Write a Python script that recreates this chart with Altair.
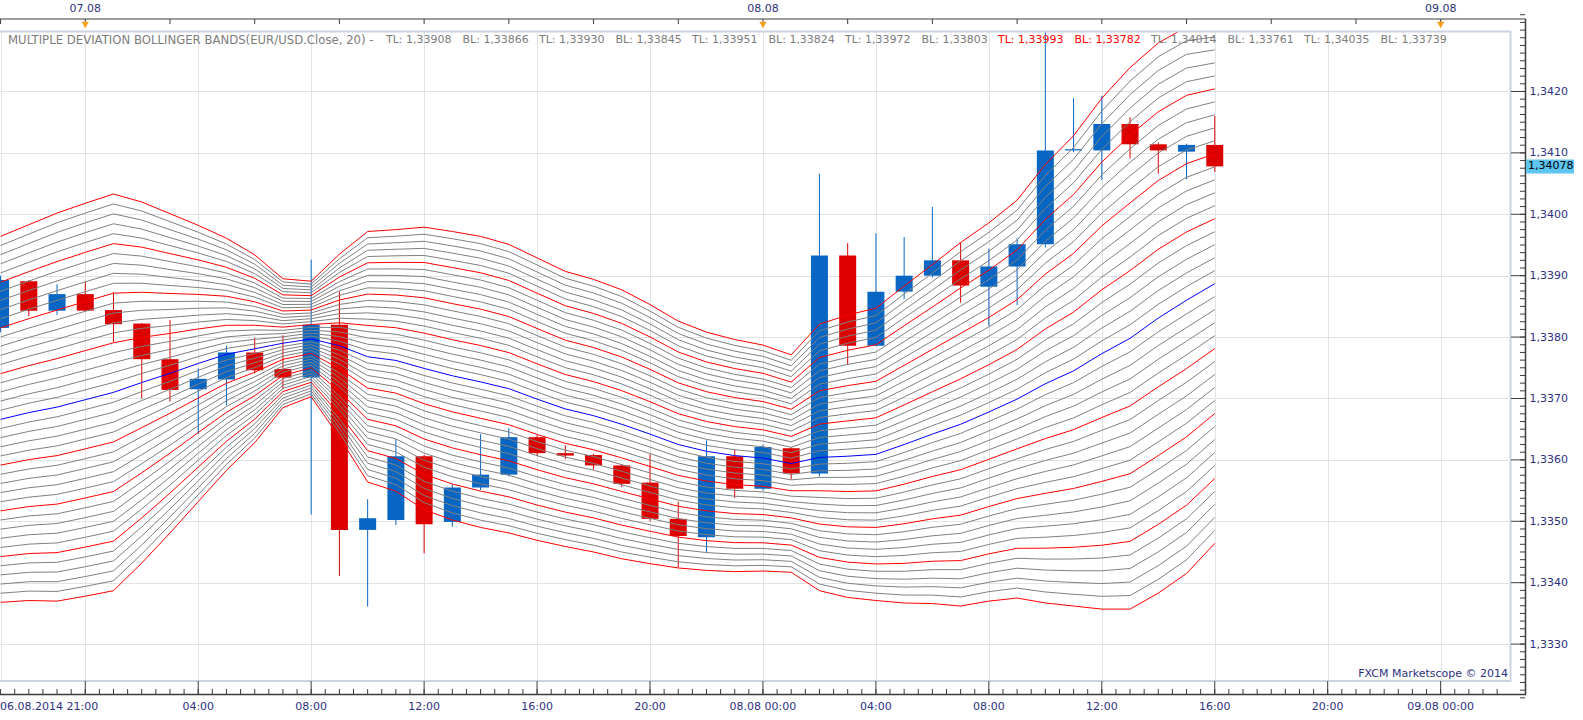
import altair as alt
import numpy as np
import pandas as pd

# Hourly EUR/USD bars; hour index 0 = 06.08.2014 21:00
hours = list(range(44))
opens = [1.33815, 1.33891, 1.33843, 1.33870, 1.33844, 1.33822, 1.33764, 1.33715, 1.33731, 1.33775,
         1.33748, 1.33734, 1.33820, 1.33486, 1.33502, 1.33606, 1.33499, 1.33555, 1.33576, 1.33637,
         1.33611, 1.33608, 1.33591, 1.33563, 1.33504, 1.33474, 1.33606, 1.33553, 1.33619, 1.33578,
         1.33933, 1.33786, 1.33874, 1.33900, 1.33925, 1.33882, 1.33915, 1.33951, 1.34104, 1.34104,
         1.34147, 1.34114, 1.34102, 1.34113]
highs = [1.33900, 1.33893, 1.33886, 1.33890, 1.33873, 1.33823, 1.33828, 1.33749, 1.33786, 1.33799,
         1.33803, 1.33926, 1.33874, 1.33536, 1.33634, 1.33608, 1.33560, 1.33642, 1.33652, 1.33640,
         1.33624, 1.33610, 1.33593, 1.33609, 1.33532, 1.33632, 1.33617, 1.33625, 1.33621, 1.34066,
         1.33953, 1.33969, 1.33963, 1.34012, 1.33954, 1.33944, 1.33961, 1.34310, 1.34189, 1.34193,
         1.34158, 1.34117, 1.34115, 1.34160]
lows = [1.33808, 1.33834, 1.33836, 1.33842, 1.33792, 1.33700, 1.33695, 1.33642, 1.33689, 1.33741,
        1.33715, 1.33511, 1.33411, 1.33361, 1.33494, 1.33448, 1.33491, 1.33551, 1.33573, 1.33606,
        1.33601, 1.33584, 1.33556, 1.33500, 1.33425, 1.33449, 1.33538, 1.33550, 1.33568, 1.33573,
        1.33755, 1.33785, 1.33862, 1.33897, 1.33856, 1.33818, 1.33852, 1.33946, 1.34101, 1.34056,
        1.34091, 1.34066, 1.34057, 1.34069]
closes = [1.33893, 1.33843, 1.33870, 1.33843, 1.33821, 1.33764, 1.33714, 1.33732, 1.33775, 1.33746,
          1.33734, 1.33820, 1.33486, 1.33505, 1.33606, 1.33495, 1.33555, 1.33576, 1.33637, 1.33611,
          1.33607, 1.33591, 1.33561, 1.33504, 1.33476, 1.33606, 1.33553, 1.33621, 1.33578, 1.33933,
          1.33786, 1.33874, 1.33900, 1.33925, 1.33884, 1.33915, 1.33951, 1.34104, 1.34106, 1.34147,
          1.34114, 1.34104, 1.34113, 1.34078]

# Bollinger middle line and half-width of the outermost (20th) band
band_mid = [1.33666, 1.33677, 1.33686, 1.33698, 1.33710, 1.33726, 1.33741, 1.33757, 1.33772, 1.33781,
            1.33790, 1.33797, 1.33786, 1.33768, 1.33762, 1.33749, 1.33737, 1.33727, 1.33716, 1.33699,
            1.33683, 1.33672, 1.33658, 1.33642, 1.33625, 1.33614, 1.33607, 1.33603, 1.33594, 1.33604,
            1.33606, 1.33609, 1.33625, 1.33642, 1.33658, 1.33678, 1.33699, 1.33724, 1.33745, 1.33773,
            1.33798, 1.33831, 1.33860, 1.33887]
band_half = [0.00298, 0.00306, 0.00316, 0.00320, 0.00323, 0.00294, 0.00260, 0.00225, 0.00189, 0.00153,
             0.00105, 0.00094, 0.00149, 0.00204, 0.00213, 0.00230, 0.00235, 0.00237, 0.00235, 0.00230,
             0.00224, 0.00222, 0.00219, 0.00211, 0.00201, 0.00194, 0.00189, 0.00184, 0.00177, 0.00217,
             0.00230, 0.00238, 0.00258, 0.00276, 0.00296, 0.00308, 0.00324, 0.00357, 0.00383, 0.00416,
             0.00441, 0.00448, 0.00445, 0.00423]
BAND_STEPS = 20

# Axis labelling
price_ticks = [1.333, 1.334, 1.335, 1.336, 1.337, 1.338, 1.339, 1.340, 1.341, 1.342]
grid_hours = [0, 3, 7, 11, 15, 19, 23, 27, 31, 35, 39, 43, 47, 51]
bottom_label_hours = [7, 11, 15, 19, 23, 27, 31, 35, 39, 43, 47, 51]
bottom_labels = ["04:00", "08:00", "12:00", "16:00", "20:00", "08.08 00:00",
                 "04:00", "08:00", "12:00", "16:00", "20:00", "09.08 00:00"]
first_label = "06.08.2014 21:00"
day_hours = [3, 27, 51]
day_labels = ["07.08", "08.08", "09.08"]

legend_title = "MULTIPLE DEVIATION BOLLINGER BANDS(EUR/USD.Close, 20) -"
legend_items = ["TL: 1,33908", "BL: 1,33866", "TL: 1,33930", "BL: 1,33845", "TL: 1,33951",
                "BL: 1,33824", "TL: 1,33972", "BL: 1,33803", "TL: 1,33993", "BL: 1,33782",
                "TL: 1,34014", "BL: 1,33761", "TL: 1,34035", "BL: 1,33739"]
legend_highlight = [8, 9]

FONT = "DejaVu Sans"
NAVY = "#2e3180"
UP, DOWN = "#0766c4", "#dd0000"
W, H = 1510, 650

xs = alt.Scale(domain=[-0.02, 53.456], nice=False, zero=False, padding=0)
ys = alt.Scale(domain=[1.332399, 1.342985], nice=False, zero=False, padding=0)
yaxis = alt.Axis(orient="right", offset=15, values=price_ticks, title=None,
                 labelExpr="replace(format(datum.value, '.4f'), '.', ',')",
                 domain=False, ticks=False, tickSize=0, labelPadding=4,
                 labelFont=FONT, labelFontSize=11, labelColor=NAVY,
                 grid=True, gridColor="#e3e3e3", gridWidth=1)
xaxis = alt.Axis(values=grid_hours, labels=False, domain=False, ticks=False, title=None,
                 grid=True, gridColor="#e3e3e3", gridWidth=1)

bars = pd.DataFrame({"h": hours, "open": opens, "high": highs, "low": lows, "close": closes})
bars["dir"] = np.where(bars["close"] >= bars["open"], "up", "down")
cscale = alt.Scale(domain=["up", "down"], range=[UP, DOWN])

base = alt.Chart(bars)
grid = base.mark_point(opacity=0).encode(
    x=alt.X("h:Q", scale=xs, axis=xaxis), y=alt.Y("close:Q", scale=ys, axis=yaxis))
wicks = base.mark_rule(strokeWidth=1, clip=True).encode(
    x=alt.X("h:Q", scale=xs), y=alt.Y("low:Q", scale=ys), y2="high:Q",
    color=alt.Color("dir:N", scale=cscale, legend=None))
bodies = base.mark_bar(size=17, clip=True).encode(
    x=alt.X("h:Q", scale=xs), y=alt.Y("open:Q", scale=ys), y2="close:Q",
    color=alt.Color("dir:N", scale=cscale, legend=None))

# Band lines: middle +/- k/20 of the outer half-width
rows = []
for h, m, w in zip(hours, band_mid, band_half):
    for k in range(-BAND_STEPS, BAND_STEPS + 1):
        kind = "mid" if k == 0 else ("red" if k % 5 == 0 else "gray")
        rows.append({"h": h, "k": k, "v": m + w * k / BAND_STEPS, "kind": kind})
bands = pd.DataFrame(rows)

def band_layer(kind, color):
    return alt.Chart(bands[bands["kind"] == kind]).mark_line(
        strokeWidth=1, color=color, clip=True).encode(
        x=alt.X("h:Q", scale=xs), y=alt.Y("v:Q", scale=ys), detail="k:N")

gray_lines = band_layer("gray", "#808080")
red_lines = band_layer("red", "#ff0000")
mid_line = band_layer("mid", "#0000ff")

one = pd.DataFrame({"a": [0]})
def hrule(x1, x2, y, color, width):
    return alt.Chart(one).mark_rule(color=color, strokeWidth=width).encode(
        x=alt.value(x1), x2=alt.value(x2), y=alt.value(y))
def vrule(x, y1, y2, color, width):
    return alt.Chart(one).mark_rule(color=color, strokeWidth=width).encode(
        x=alt.value(x), y=alt.value(y1), y2=alt.value(y2))

PANEL = "#cbd2e2"
AXIS = "#3c3c3c"
frame = [
    hrule(0, 1511, 0.5, PANEL, 2), hrule(0, 1511, 650, PANEL, 2), vrule(1510.5, 0, 651, PANEL, 2),
    hrule(0, 1526, -12, AXIS, 1), hrule(0, 1526, 663.5, AXIS, 1.5), vrule(1525.5, -12, 664, AXIS, 1.5),
]

# Price-axis tick marks (major inside the frame, minor every 1/8)
major_df = pd.DataFrame({"p": price_ticks})
minor_df = pd.DataFrame({"p": np.round(np.arange(1.332125, 1.34325, 0.000125), 6)})
ymajor = alt.Chart(major_df).mark_rule(color=AXIS, strokeWidth=1).encode(
    y=alt.Y("p:Q", scale=ys), x=alt.value(1511), x2=alt.value(1525))
yminor = alt.Chart(minor_df).mark_rule(color=AXIS, strokeWidth=1).encode(
    y=alt.Y("p:Q", scale=ys), x=alt.value(1520), x2=alt.value(1525))

# Time-axis tick marks
xmajor_df = pd.DataFrame({"h": grid_hours[1:]})
xminor_df = pd.DataFrame({"h": np.arange(0, 53.5, 0.5)})
xmajor = alt.Chart(xmajor_df).mark_rule(color=AXIS, strokeWidth=1).encode(
    x=alt.X("h:Q", scale=xs), y=alt.value(650), y2=alt.value(663))
xminor = alt.Chart(xminor_df).mark_rule(color=AXIS, strokeWidth=1).encode(
    x=alt.X("h:Q", scale=xs), y=alt.value(658), y2=alt.value(663))
top_df = pd.DataFrame({"h": np.arange(0, 54, 3)})
xtop = alt.Chart(top_df).mark_rule(color=AXIS, strokeWidth=1).encode(
    x=alt.X("h:Q", scale=xs), y=alt.value(-12), y2=alt.value(-7))

# Labels
bl_df = pd.DataFrame({"h": bottom_label_hours, "t": bottom_labels})
bottom_text = alt.Chart(bl_df).mark_text(font=FONT, fontSize=11, color=NAVY, baseline="middle").encode(
    x=alt.X("h:Q", scale=xs), y=alt.value(676), text="t:N")
first_text = alt.Chart(pd.DataFrame({"t": [first_label]})).mark_text(
    font=FONT, fontSize=11, color=NAVY, align="left", baseline="middle").encode(
    x=alt.value(0), y=alt.value(676), text="t:N")
day_df = pd.DataFrame({"h": day_hours, "t": day_labels})
day_text = alt.Chart(day_df).mark_text(font=FONT, fontSize=11, color=NAVY, baseline="middle").encode(
    x=alt.X("h:Q", scale=xs), y=alt.value(-22), text="t:N")
day_marks = alt.Chart(day_df).mark_point(shape="triangle-down", filled=True, size=55,
                                         color="#f5a01a", opacity=1).encode(
    x=alt.X("h:Q", scale=xs), y=alt.value(-6))

# Indicator caption: title, then one entry per band value
leg_df = pd.DataFrame({
    "t": legend_items,
    "x": [386 + 76.5 * i for i in range(len(legend_items))],
    "hl": [i in legend_highlight for i in range(len(legend_items))],
})
legend_title_text = alt.Chart(one).mark_text(
    font=FONT, fontSize=11.7, align="left", baseline="middle", color="#7d7d7d",
    text=legend_title).encode(x=alt.value(8), y=alt.value(9))
legend_gray = alt.Chart(leg_df[~leg_df["hl"]]).mark_text(
    font=FONT, fontSize=11, align="left", baseline="middle", color="#7d7d7d").encode(
    x=alt.X("x:Q", scale=None), y=alt.value(9), text="t:N")
legend_red = alt.Chart(leg_df[leg_df["hl"]]).mark_text(
    font=FONT, fontSize=11, align="left", baseline="middle", color="#ff0000").encode(
    x=alt.X("x:Q", scale=None), y=alt.value(9), text="t:N")

credit = alt.Chart(one).mark_text(font=FONT, fontSize=11, color=NAVY, align="right", baseline="middle",
                                  text="FXCM Marketscope \u00a9 2014").encode(x=alt.value(1508), y=alt.value(643))

last_df = pd.DataFrame({"p": [closes[-1]], "t": [f"{closes[-1]:.5f}".replace(".", ",")]})
price_box = alt.Chart(last_df).mark_bar(size=14, color="#5ec4f0", orient="horizontal").encode(
    y=alt.Y("p:Q", scale=ys), x=alt.value(1526), x2=alt.value(1574))
price_text = alt.Chart(last_df).mark_text(font=FONT, fontSize=11, color="#000000", align="left",
                                          baseline="middle").encode(
    y=alt.Y("p:Q", scale=ys), x=alt.value(1528), text="t:N")

chart = alt.layer(
    grid, wicks, bodies, gray_lines, red_lines, mid_line, *frame,
    ymajor, yminor, xmajor, xminor, xtop,
    bottom_text, first_text, day_text, day_marks,
    legend_title_text, legend_gray, legend_red, credit, price_box, price_text,
).properties(
    width=W, height=H,
    padding={"left": 0, "top": 31, "right": 73, "bottom": 39},
    autosize=alt.AutoSizeParams(type="none"),
    background="white",
).configure_view(stroke=None)

chart.save("out.html", embed_options={"renderer": "svg", "actions": False})
